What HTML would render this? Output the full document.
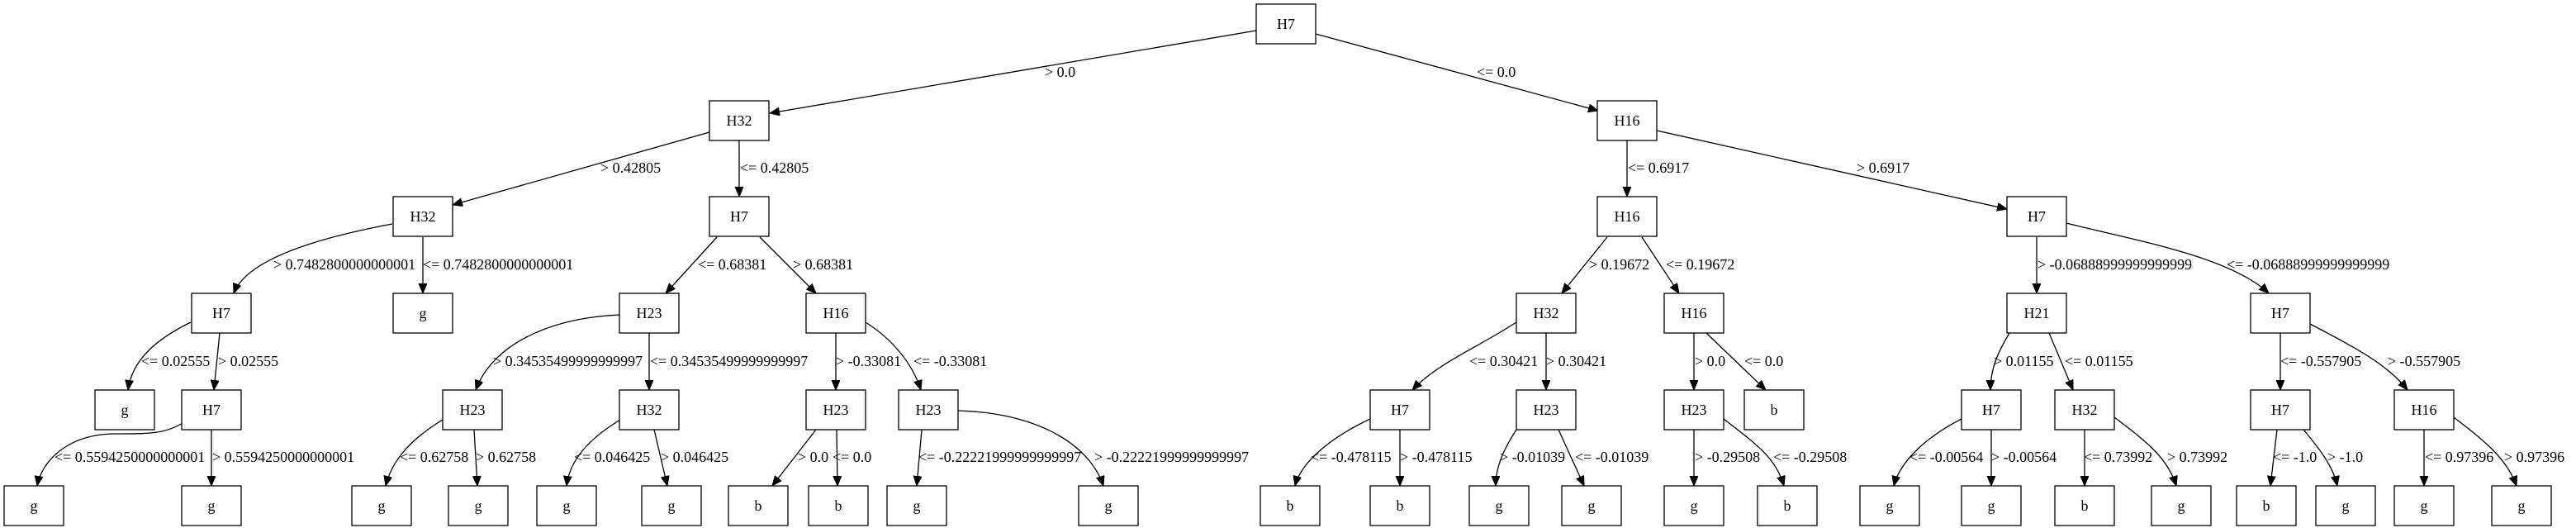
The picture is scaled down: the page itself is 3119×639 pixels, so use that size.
<!DOCTYPE html>
<html><head><meta charset="utf-8"><style>
html,body{margin:0;padding:0;background:#fff;}
svg{display:block;}
text{font-family:"Liberation Serif",serif;font-size:18px;fill:#000;}
.n{text-anchor:middle;}
rect{fill:#fff;stroke:#000;stroke-width:1.3;}
path,line{stroke:#000;stroke-width:1.3;fill:none;}
</style></head><body>
<svg width="3119" height="639" viewBox="0 0 3119 639" xmlns="http://www.w3.org/2000/svg">
<defs><marker id="a" markerUnits="userSpaceOnUse" markerWidth="14" markerHeight="12" refX="12" refY="5" orient="auto"><path d="M0,0 L12,5 L0,10 Z" style="fill:#000;stroke:#000;stroke-width:1"/></marker></defs>
<g marker-end="url(#a)">
<path d="M1521,37 L932,137"/>
<path d="M1593,41 L1935,134"/>
<path d="M859,160 L548,248"/>
<path d="M895,170 L895,238"/>
<path d="M1970,170 L1970,238"/>
<path d="M2006,158 L2430,253"/>
<path d="M475,271 C400,285 300,310 283,355"/>
<path d="M512,287 L512,355"/>
<path d="M868,287 L806,355"/>
<path d="M920,287 L988,355"/>
<path d="M1946,287 L1891,355"/>
<path d="M1988,287 L2033,355"/>
<path d="M2466,287 L2466,355"/>
<path d="M2502,270 C2580,290 2700,310 2747,355"/>
<path d="M231,390 C190,410 160,435 155,472"/>
<path d="M266,403 L259,472"/>
<path d="M751,381 C660,385 595,420 576,472"/>
<path d="M786,403 L786,472"/>
<path d="M1012,403 L1012,472"/>
<path d="M1048,390 C1080,410 1105,440 1115,472"/>
<path d="M1836,390 C1790,420 1740,440 1710,472"/>
<path d="M1872,403 L1872,472"/>
<path d="M2051,403 L2051,472"/>
<path d="M2066,403 L2138,472"/>
<path d="M2433,403 C2420,425 2410,445 2410,472"/>
<path d="M2481,403 L2510,472"/>
<path d="M2761,403 L2761,472"/>
<path d="M2797,392 C2850,420 2890,440 2915,472"/>
<path d="M221,512 C200,525 180,525 140,525 C80,525 50,560 45,588"/>
<path d="M256,520 L256,588"/>
<path d="M536,508 C500,530 475,555 467,588"/>
<path d="M574,520 L578,588"/>
<path d="M751,508 C715,530 690,555 686,588"/>
<path d="M792,520 L808,588"/>
<path d="M988,520 L935,588"/>
<path d="M1013,520 L1014,588"/>
<path d="M1116,520 L1110,588"/>
<path d="M1160,497 C1260,500 1320,540 1336,588"/>
<path d="M1659,507 C1610,530 1575,560 1568,588"/>
<path d="M1695,520 L1695,588"/>
<path d="M1836,520 C1820,545 1811,565 1811,588"/>
<path d="M1887,520 L1918,588"/>
<path d="M2051,520 L2051,588"/>
<path d="M2087,507 C2130,540 2150,555 2160,588"/>
<path d="M2375,507 C2330,530 2300,560 2293,588"/>
<path d="M2411,520 L2411,588"/>
<path d="M2524,520 L2524,588"/>
<path d="M2560,505 C2600,535 2625,555 2635,588"/>
<path d="M2757,520 L2749,588"/>
<path d="M2789,520 C2810,545 2825,565 2830,588"/>
<path d="M2935,520 L2935,588"/>
<path d="M2971,505 C3010,535 3035,555 3047,588"/>
</g>
<!-- edge labels -->
<text x="1265" y="93">&gt; 0.0</text>
<text x="1788" y="93">&lt;= 0.0</text>
<text x="727" y="209">&gt; 0.42805</text>
<text x="896" y="209">&lt;= 0.42805</text>
<text x="1971" y="209">&lt;= 0.6917</text>
<text x="2248" y="209">&gt; 0.6917</text>
<text x="331" y="326">&gt; 0.7482800000000001</text>
<text x="512" y="326">&lt;= 0.7482800000000001</text>
<text x="845" y="326">&lt;= 0.68381</text>
<text x="960" y="326">&gt; 0.68381</text>
<text x="1924" y="326">&gt; 0.19672</text>
<text x="2017" y="326">&lt;= 0.19672</text>
<text x="2467" y="326">&gt; -0.06888999999999999</text>
<text x="2696" y="326">&lt;= -0.06888999999999999</text>
<text x="171" y="443">&lt;= 0.02555</text>
<text x="264" y="443">&gt; 0.02555</text>
<text x="597" y="443">&gt; 0.34535499999999997</text>
<text x="787" y="443">&lt;= 0.34535499999999997</text>
<text x="1012" y="443">&gt; -0.33081</text>
<text x="1106" y="443">&lt;= -0.33081</text>
<text x="1779" y="443">&lt;= 0.30421</text>
<text x="1872" y="443">&gt; 0.30421</text>
<text x="2052" y="443">&gt; 0.0</text>
<text x="2112" y="443">&lt;= 0.0</text>
<text x="2414" y="443">&gt; 0.01155</text>
<text x="2500" y="443">&lt;= 0.01155</text>
<text x="2761" y="443">&lt;= -0.557905</text>
<text x="2891" y="443">&gt; -0.557905</text>
<text x="66" y="559">&lt;= 0.5594250000000001</text>
<text x="257" y="559">&gt; 0.5594250000000001</text>
<text x="484" y="559">&lt;= 0.62758</text>
<text x="576" y="559">&gt; 0.62758</text>
<text x="695" y="559">&lt;= 0.046425</text>
<text x="800" y="559">&gt; 0.046425</text>
<text x="966" y="559">&gt; 0.0</text>
<text x="1008" y="559">&lt;= 0.0</text>
<text x="1112" y="559">&lt;= -0.22221999999999997</text>
<text x="1325" y="559">&gt; -0.22221999999999997</text>
<text x="1587" y="559">&lt;= -0.478115</text>
<text x="1695" y="559">&gt; -0.478115</text>
<text x="1816" y="559">&gt; -0.01039</text>
<text x="1907" y="559">&lt;= -0.01039</text>
<text x="2052" y="559">&gt; -0.29508</text>
<text x="2147" y="559">&lt;= -0.29508</text>
<text x="2312" y="559">&lt;= -0.00564</text>
<text x="2411" y="559">&gt; -0.00564</text>
<text x="2523" y="559">&lt;= 0.73992</text>
<text x="2624" y="559">&gt; 0.73992</text>
<text x="2752" y="559">&lt;= -1.0</text>
<text x="2818" y="559">&gt; -1.0</text>
<text x="2936" y="559">&lt;= 0.97396</text>
<text x="3032" y="559">&gt; 0.97396</text>
<!-- nodes -->
<g>
<rect x="1521" y="5" width="72" height="48"/><text class="n" x="1557" y="35">H7</text>
<rect x="859" y="122" width="72" height="48"/><text class="n" x="895" y="152">H32</text>
<rect x="1934" y="122" width="72" height="48"/><text class="n" x="1970" y="152">H16</text>
<rect x="476" y="238" width="72" height="48"/><text class="n" x="512" y="268">H32</text>
<rect x="859" y="238" width="72" height="48"/><text class="n" x="895" y="268">H7</text>
<rect x="1934" y="238" width="72" height="48"/><text class="n" x="1970" y="268">H16</text>
<rect x="2430" y="238" width="72" height="48"/><text class="n" x="2466" y="268">H7</text>
<rect x="232" y="355" width="72" height="48"/><text class="n" x="268" y="385">H7</text>
<rect x="476" y="355" width="72" height="48"/><text class="n" x="512" y="385">g</text>
<rect x="750" y="355" width="72" height="48"/><text class="n" x="786" y="385">H23</text>
<rect x="976" y="355" width="72" height="48"/><text class="n" x="1012" y="385">H16</text>
<rect x="1836" y="355" width="72" height="48"/><text class="n" x="1872" y="385">H32</text>
<rect x="2015" y="355" width="72" height="48"/><text class="n" x="2051" y="385">H16</text>
<rect x="2430" y="355" width="72" height="48"/><text class="n" x="2466" y="385">H21</text>
<rect x="2725" y="355" width="72" height="48"/><text class="n" x="2761" y="385">H7</text>
<rect x="115" y="472" width="72" height="48"/><text class="n" x="151" y="502">g</text>
<rect x="220" y="472" width="72" height="48"/><text class="n" x="256" y="502">H7</text>
<rect x="536" y="472" width="72" height="48"/><text class="n" x="572" y="502">H23</text>
<rect x="750" y="472" width="72" height="48"/><text class="n" x="786" y="502">H32</text>
<rect x="976" y="472" width="72" height="48"/><text class="n" x="1012" y="502">H23</text>
<rect x="1088" y="472" width="72" height="48"/><text class="n" x="1124" y="502">H23</text>
<rect x="1659" y="472" width="72" height="48"/><text class="n" x="1695" y="502">H7</text>
<rect x="1836" y="472" width="72" height="48"/><text class="n" x="1872" y="502">H23</text>
<rect x="2015" y="472" width="72" height="48"/><text class="n" x="2051" y="502">H23</text>
<rect x="2112" y="472" width="72" height="48"/><text class="n" x="2148" y="502">b</text>
<rect x="2375" y="472" width="72" height="48"/><text class="n" x="2411" y="502">H7</text>
<rect x="2488" y="472" width="72" height="48"/><text class="n" x="2524" y="502">H32</text>
<rect x="2725" y="472" width="72" height="48"/><text class="n" x="2761" y="502">H7</text>
<rect x="2899" y="472" width="72" height="48"/><text class="n" x="2935" y="502">H16</text>
<rect x="5" y="588" width="72" height="48"/><text class="n" x="41" y="618">g</text>
<rect x="220" y="588" width="72" height="48"/><text class="n" x="256" y="618">g</text>
<rect x="426" y="588" width="72" height="48"/><text class="n" x="462" y="618">g</text>
<rect x="543" y="588" width="72" height="48"/><text class="n" x="579" y="618">g</text>
<rect x="650" y="588" width="72" height="48"/><text class="n" x="686" y="618">g</text>
<rect x="777" y="588" width="72" height="48"/><text class="n" x="813" y="618">g</text>
<rect x="882" y="588" width="72" height="48"/><text class="n" x="918" y="618">b</text>
<rect x="979" y="588" width="72" height="48"/><text class="n" x="1015" y="618">b</text>
<rect x="1074" y="588" width="72" height="48"/><text class="n" x="1110" y="618">g</text>
<rect x="1306" y="588" width="72" height="48"/><text class="n" x="1342" y="618">g</text>
<rect x="1526" y="588" width="72" height="48"/><text class="n" x="1562" y="618">b</text>
<rect x="1659" y="588" width="72" height="48"/><text class="n" x="1695" y="618">b</text>
<rect x="1779" y="588" width="72" height="48"/><text class="n" x="1815" y="618">g</text>
<rect x="1891" y="588" width="72" height="48"/><text class="n" x="1927" y="618">g</text>
<rect x="2015" y="588" width="72" height="48"/><text class="n" x="2051" y="618">g</text>
<rect x="2128" y="588" width="72" height="48"/><text class="n" x="2164" y="618">b</text>
<rect x="2252" y="588" width="72" height="48"/><text class="n" x="2288" y="618">g</text>
<rect x="2375" y="588" width="72" height="48"/><text class="n" x="2411" y="618">g</text>
<rect x="2488" y="588" width="72" height="48"/><text class="n" x="2524" y="618">b</text>
<rect x="2605" y="588" width="72" height="48"/><text class="n" x="2641" y="618">g</text>
<rect x="2708" y="588" width="72" height="48"/><text class="n" x="2744" y="618">b</text>
<rect x="2804" y="588" width="72" height="48"/><text class="n" x="2840" y="618">g</text>
<rect x="2899" y="588" width="72" height="48"/><text class="n" x="2935" y="618">g</text>
<rect x="3017" y="588" width="72" height="48"/><text class="n" x="3053" y="618">g</text>
</g>
</svg>
</body></html>
